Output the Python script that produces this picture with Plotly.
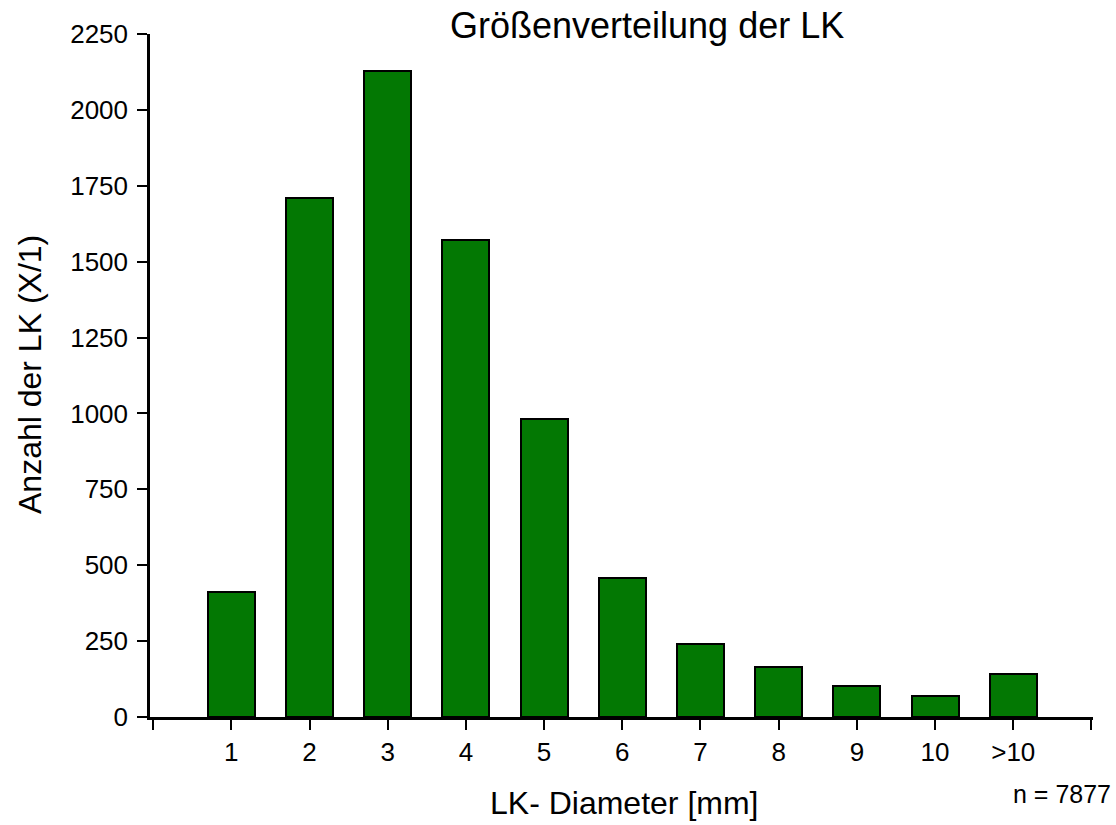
import plotly.graph_objects as go

categories = ["1", "2", "3", "4", "5", "6", "7", "8", "9", "10", ">10"]
counts = [412, 1710, 2128, 1571, 981, 459, 239, 165, 102, 68, 143]
y_ticks = [0, 250, 500, 750, 1000, 1250, 1500, 1750, 2000, 2250]

title_text = "Größenverteilung der LK"
x_title = "LK- Diameter [mm]"
y_title = "Anzahl der LK (X/1)"
n_text = "n = 7877"

positions = list(range(1, len(categories) + 1))
FONT = "Liberation Sans, Arial, sans-serif"

fig = go.Figure()
fig.add_trace(go.Bar(
    x=positions,
    y=counts,
    width=0.6,
    marker=dict(color="rgb(3,120,3)", line=dict(color="black", width=2)),
    showlegend=False,
))

W, H = 1116, 825
L, R, T, B = 150, 23, 34, 108

fig.update_layout(
    width=W, height=H,
    margin=dict(l=L, r=R, t=T, b=B),
    plot_bgcolor="white", paper_bgcolor="white",
    font=dict(family=FONT, color="black", size=26),
    bargap=0,
    xaxis=dict(
        range=[-0.04, 12.02],
        tickmode="array",
        tickvals=[0] + positions + [12],
        ticktext=[""] + categories + [""],
        showline=True, linecolor="black", linewidth=2.5,
        ticks="outside", ticklen=10, tickwidth=2, tickcolor="black",
        showgrid=False, zeroline=False,
        tickfont=dict(size=26, family=FONT),
        fixedrange=True,
    ),
    yaxis=dict(
        range=[0, 2250],
        tickmode="array",
        tickvals=y_ticks,
        showline=True, linecolor="black", linewidth=2.5,
        ticks="outside", ticklen=10, tickwidth=2, tickcolor="black",
        showgrid=False, zeroline=False,
        tickfont=dict(size=26, family=FONT),
        ticklabelstandoff=4,
        fixedrange=True,
    ),
    annotations=[
        dict(text=title_text, x=647, y=25, showarrow=False, font=dict(size=36, family=FONT)),
        dict(text=x_title, x=624, y=803, showarrow=False, font=dict(size=32, family=FONT)),
        dict(text=y_title, x=30, y=375, textangle=-90, showarrow=False, font=dict(size=32, family=FONT)),
        dict(text=n_text, x=1062, y=794, showarrow=False, font=dict(size=25, family=FONT)),
    ],
)

# convert pixel positions for annotations into paper coordinates
pw, ph = W - L - R, H - T - B
for a in fig.layout.annotations:
    px, py = a.x, a.y
    a.update(xref="paper", yref="paper",
             x=(px - L) / pw, y=1 - (py - T) / ph,
             xanchor="center", yanchor="middle")

fig.write_html("out.html", config={"displayModeBar": False},
               post_script="document.body.style.margin='0px';document.body.style.overflow='hidden';")
